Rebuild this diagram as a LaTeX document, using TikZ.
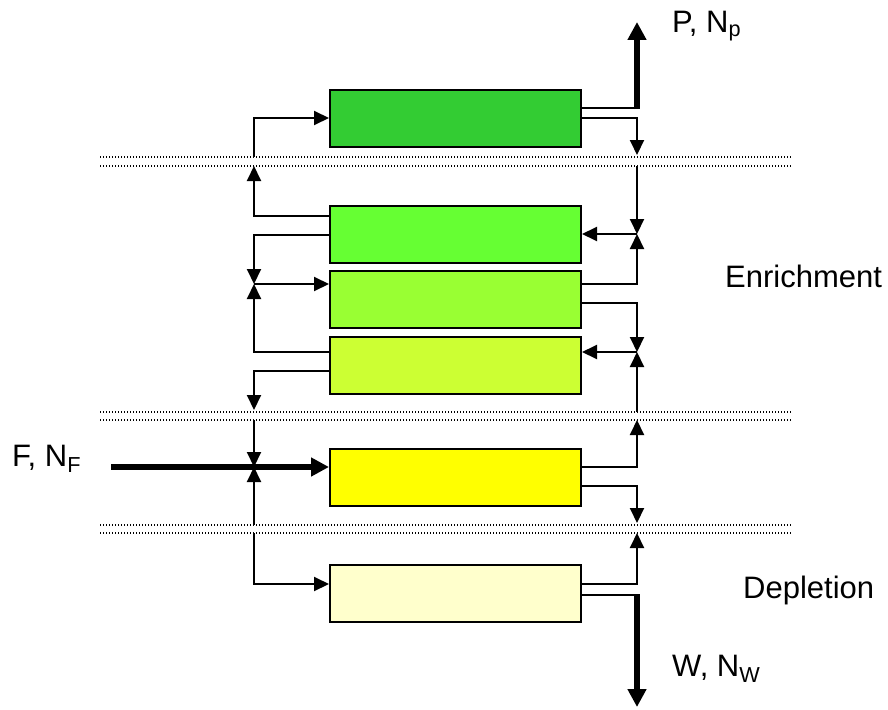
\documentclass[tikz,border=0pt]{standalone}
\usepackage{fontspec}
\setmainfont{Liberation Sans}
\usetikzlibrary{arrows.meta, calc}
\definecolor{stgone}{HTML}{33CC33}
\definecolor{stgtwo}{HTML}{66FF33}
\definecolor{stgthree}{HTML}{99FF33}
\definecolor{stgfour}{HTML}{CCFF33}
\definecolor{stgfeed}{HTML}{FFFF00}
\definecolor{stgstrip}{HTML}{FFFFCC}
\tikzset{
  stagebox/.style = {draw=black, line width=2pt, minimum width=251pt,
                     minimum height=57pt, inner sep=0pt},
  link/.style     = {draw=black, line width=2pt},
  flow/.style     = {draw=black, line width=2pt,
                     -{Triangle[length=15pt, width=14pt]}},
  bigflow/.style  = {draw=black, line width=6pt,
                     -{Triangle[length=18pt, width=18pt]}},
  cutline/.style  = {draw=black, line width=1.2pt, dash pattern=on 1.2pt off 1.8pt},
  lbl/.style      = {font=\fontsize{31}{37}\selectfont, inner sep=0pt,
                     anchor=base west},
}

\begin{document}
\begin{tikzpicture}[x=1pt, y=-1pt]
  \useasboundingbox (0,0) rectangle (888,709);
  % stage boundaries
  \foreach \yy in {157,166,412,420,525,533}
    \draw[cutline] (100,\yy) -- (792,\yy);
  % stages
  \node[stagebox, fill=stgone]   (s1) at (455.5,118)   {};
  \node[stagebox, fill=stgtwo]   (s2) at (455.5,234.5) {};
  \node[stagebox, fill=stgthree] (s3) at (455.5,299.5) {};
  \node[stagebox, fill=stgfour]  (s4) at (455.5,365.5) {};
  \node[stagebox, fill=stgfeed]  (s5) at (455.5,477.5) {};
  \node[stagebox, fill=stgstrip] (s6) at (455.5,593.5) {};
  % junctions and ends
  \coordinate (jl1) at (254,284);
  \coordinate (jl2) at (254,467);
  \coordinate (jr1) at (637,234);
  \coordinate (jr2) at (637,352);
  \coordinate (pout) at (637,22);
  \coordinate (wout) at (637,707);
  \coordinate (fin) at (111,467);
  \coordinate (al1) at (254,157);
  \coordinate (bl1) at (254,166);
  \coordinate (al2) at (254,410);
  \coordinate (bl2) at (254,420);
  \coordinate (al3) at (254,525);
  \coordinate (bl3) at (254,533);
  \coordinate (ar1) at (637,155);
  \coordinate (br1) at (637,166);
  \coordinate (ar2) at (637,412);
  \coordinate (br2) at (637,420);
  \coordinate (ar3) at (637,523);
  \coordinate (br3) at (637,533);
  % right side
  \draw[link] (s1.east |- 0,108) -- (640,108);
  \draw[bigflow] (637,109) -- (pout);
  \draw[flow] (s1.east) -| (ar1);
  \draw[flow] (br1) -- (jr1);
  \draw[flow] (jr1) -- (s2.east |- jr1);
  \draw[flow] (s3.east |- 0,284) -| (jr1);
  \draw[flow] (s3.east |- 0,303) -| (jr2);
  \draw[flow] (jr2) -- (s4.east |- jr2);
  \draw[flow] (ar2) -- (jr2);
  \draw[flow] (s5.east |- 0,467) -| (br2);
  \draw[flow] (s5.east |- 0,486) -| (ar3);
  \draw[flow] (s6.east |- 0,584) -| (br3);
  \draw[link] (s6.east |- 0,595) -- (640,595);
  \draw[bigflow] (637,594) -- (wout);
  % left side
  \draw[flow] (al1) |- (s1.west);
  \draw[flow] (s2.west |- 0,216) -| (bl1);
  \draw[flow] (s2.west |- 0,235) -| (jl1);
  \draw[flow] (jl1) -- (s3.west |- jl1);
  \draw[flow] (s4.west |- 0,352) -| (jl1);
  \draw[flow] (s4.west |- 0,371) -| (al2);
  \draw[flow] (bl2) -- (jl2);
  \draw[bigflow] (fin) -- (s5.west |- jl2);
  \draw[flow] (al3) -- (jl2);
  \draw[flow] (bl3) |- (s6.west |- 0,584);
  % labels
  \node[lbl] (plbl) at (672,33)  {P, N\textsubscript{p}};
  \node[lbl] (flbl) at (12,466)  {F, N\textsubscript{F}};
  \node[lbl] (wlbl) at (672,676) {W, N\textsubscript{W}};
  \node[lbl] (enr)  at (725,287) {Enrichment};
  \node[lbl] (dep)  at (743,598) {Depletion};
\end{tikzpicture}
\end{document}
